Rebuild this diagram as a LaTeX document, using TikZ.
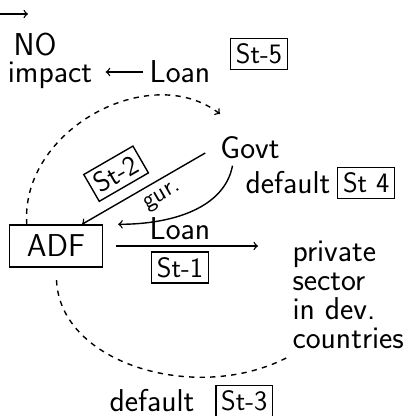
\documentclass[tikz,border=0pt]{standalone}
\usepackage{tikz}
\usetikzlibrary{positioning}
\begin{document}
\begin{tikzpicture}[x=0.02cm, y=-0.02cm, thick,
  every node/.style={font=\fontsize{18}{16.5}\selectfont\sffamily},
  stage/.style={draw, inner sep=3pt, minimum height=0.52cm, font=\fontsize{16}{16}\selectfont\sffamily}]
\useasboundingbox (0,0) rectangle (408,416);
\coordinate (s0) at (0,14);
\coordinate (s1) at (28,14);
\draw[->] (s0) -- (s1);
\node (no) at (35,45) {NO};
\node (impact) at (50,75) {impact};
\node (loantop) at (180,72) {Loan};
\node[stage] (st5) at (259,54) {St-5};
\draw[->, shorten >=4pt] (loantop.west) -- (loantop.west -| impact.east);
\node (govt) at (250,148) {Govt};
\node[draw, minimum width=1.86cm, minimum height=0.84cm] (adf) at (56,246) {ADF};
\node[align=left, anchor=north west] (priv) at (286,234) {private\\sector\\in dev.\\countries};
\coordinate (garr) at (220,114);
\coordinate (cend) at (290,356);
\draw[dashed, ->] ([xshift=0.36cm]adf.north west) .. controls (20,130) and (150,60) .. (garr);
\draw[->, shorten <=0.2cm] (govt.west) -- ([xshift=0.52cm]adf.north)
  node[pos=0.64, above=6pt, sloped, stage] (st2) {St-2}
  node[pos=0.45, below=1pt, sloped, font=\fontsize{14}{14}\selectfont\sffamily] (gur) {gur.};
\draw[->] ([xshift=-0.35cm]govt.south) .. controls +(-8,42) and +(55,0) .. ([xshift=0.3cm]adf.north east);
\node (dft4) at (288,183) {default};
\node[stage, right=0pt of dft4] (st4) {St 4};
\draw[->, shorten <=0.26cm, shorten >=0.56cm] (adf.east) -- (adf.east -| priv.west)
  node[pos=0.42, above] (loanmid) {Loan}
  node[pos=0.42, below=3pt, stage] (st1) {St-1};
\draw[dashed, shorten <=0.25cm] (adf.south) .. controls (60,365) and (200,405) .. (cend);
\node (dft3) at (152,401) {default};
\node[stage, right=8pt of dft3] (st3) {St-3};
\end{tikzpicture}
\end{document}
